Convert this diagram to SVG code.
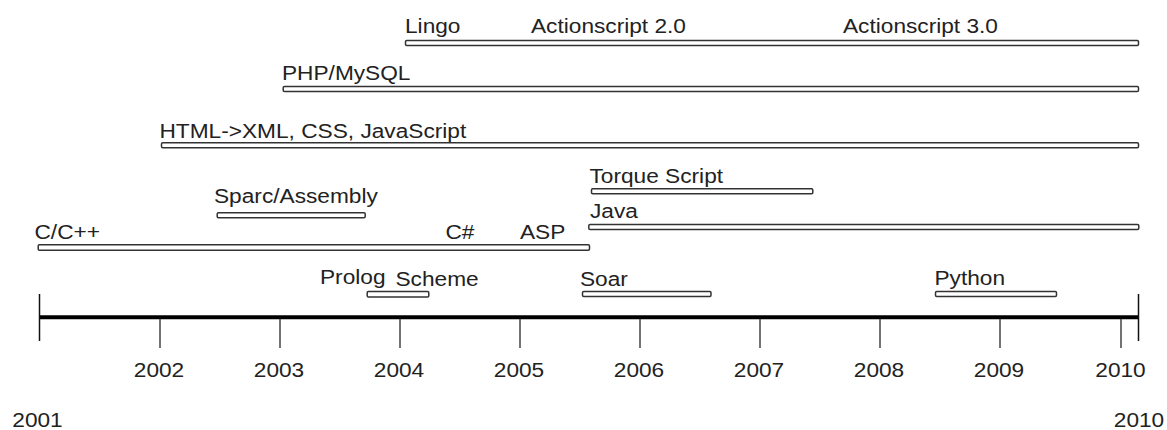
<svg xmlns="http://www.w3.org/2000/svg" width="1167" height="430" viewBox="0 0 1167 430">
<style>
text{font-family:"Liberation Sans",Arial,sans-serif;font-size:21px;fill:#222}
.yr{text-anchor:middle}
.bar{fill:#fff;stroke:#333;stroke-width:1.5}
.tick{stroke:#444;stroke-width:1.5}
.end{stroke:#111;stroke-width:1.5}
.axis{stroke:#000;stroke-width:4}
</style>
<rect width="1167" height="430" fill="#fff"/>
<g id="flash">
<rect class="bar" x="405.5" y="40.5" width="733" height="5" rx="1.2"/>
<text transform="translate(405,33) scale(1.08,1)">Lingo</text>
<text transform="translate(531,33) scale(1.08,1)">Actionscript 2.0</text>
<text transform="translate(843,33) scale(1.08,1)">Actionscript 3.0</text>
</g>
<g id="php">
<rect class="bar" x="283.2" y="86.5" width="855.3" height="5" rx="1.2"/>
<text transform="translate(282,79.5) scale(1.08,1)">PHP/MySQL</text>
</g>
<g id="html">
<rect class="bar" x="161.5" y="142.8" width="977" height="5" rx="1.2"/>
<text transform="translate(159.5,138) scale(1.08,1)">HTML-&gt;XML, CSS, JavaScript</text>
</g>
<g id="torque">
<rect class="bar" x="591.5" y="188.7" width="221.3" height="5" rx="1.2"/>
<text transform="translate(589.5,182.5) scale(1.08,1)">Torque Script</text>
</g>
<g id="sparc">
<rect class="bar" x="217.2" y="212.8" width="148" height="5" rx="1.2"/>
<text transform="translate(214,203) scale(1.08,1)">Sparc/Assembly</text>
</g>
<g id="java">
<rect class="bar" x="588.8" y="224.5" width="550" height="5" rx="1.2"/>
<text transform="translate(590,218) scale(1.08,1)">Java</text>
</g>
<g id="c">
<rect class="bar" x="38.2" y="244.8" width="551.3" height="5.4" rx="1.2"/>
<text transform="translate(34.5,239) scale(1.08,1)">C/C++</text>
<text transform="translate(445.5,238.5) scale(1.08,1)">C#</text>
<text transform="translate(520,238.5) scale(1.08,1)">ASP</text>
</g>
<g id="prolog-scheme">
<rect class="bar" x="367.2" y="291.5" width="61.6" height="5.4" rx="1.2"/>
<text transform="translate(320,283.5) scale(1.08,1)">Prolog</text>
<text transform="translate(395.5,286) scale(1.08,1)">Scheme</text>
</g>
<g id="soar">
<rect class="bar" x="582.5" y="291.5" width="128.5" height="5" rx="1.2"/>
<text transform="translate(580,286) scale(1.08,1)">Soar</text>
</g>
<g id="python">
<rect class="bar" x="935.5" y="291.5" width="121" height="5" rx="1.2"/>
<text transform="translate(934.5,284.5) scale(1.08,1)">Python</text>
</g>
<g id="axis">
<line class="axis" x1="39" y1="317.3" x2="1138.5" y2="317.3"/>
<line class="end" x1="39.5" y1="294" x2="39.5" y2="341"/>
<line class="end" x1="1138.5" y1="294" x2="1138.5" y2="341"/>
<line class="tick" x1="160" y1="319" x2="160" y2="348"/>
<line class="tick" x1="280" y1="319" x2="280" y2="348"/>
<line class="tick" x1="400" y1="319" x2="400" y2="348"/>
<line class="tick" x1="520" y1="319" x2="520" y2="348"/>
<line class="tick" x1="640" y1="319" x2="640" y2="348"/>
<line class="tick" x1="760" y1="319" x2="760" y2="348"/>
<line class="tick" x1="880" y1="319" x2="880" y2="348"/>
<line class="tick" x1="1000" y1="319" x2="1000" y2="348"/>
<line class="tick" x1="1121" y1="319" x2="1121" y2="348"/>
<text class="yr" transform="translate(159,377) scale(1.08,1)">2002</text>
<text class="yr" transform="translate(279,377) scale(1.08,1)">2003</text>
<text class="yr" transform="translate(399,377) scale(1.08,1)">2004</text>
<text class="yr" transform="translate(519,377) scale(1.08,1)">2005</text>
<text class="yr" transform="translate(639,377) scale(1.08,1)">2006</text>
<text class="yr" transform="translate(759,377) scale(1.08,1)">2007</text>
<text class="yr" transform="translate(879,377) scale(1.08,1)">2008</text>
<text class="yr" transform="translate(999,377) scale(1.08,1)">2009</text>
<text class="yr" transform="translate(1120.5,377) scale(1.08,1)">2010</text>
<text class="yr" transform="translate(37.5,427) scale(1.08,1)">2001</text>
<text class="yr" transform="translate(1139,427) scale(1.08,1)">2010</text>
</g>
</svg>
